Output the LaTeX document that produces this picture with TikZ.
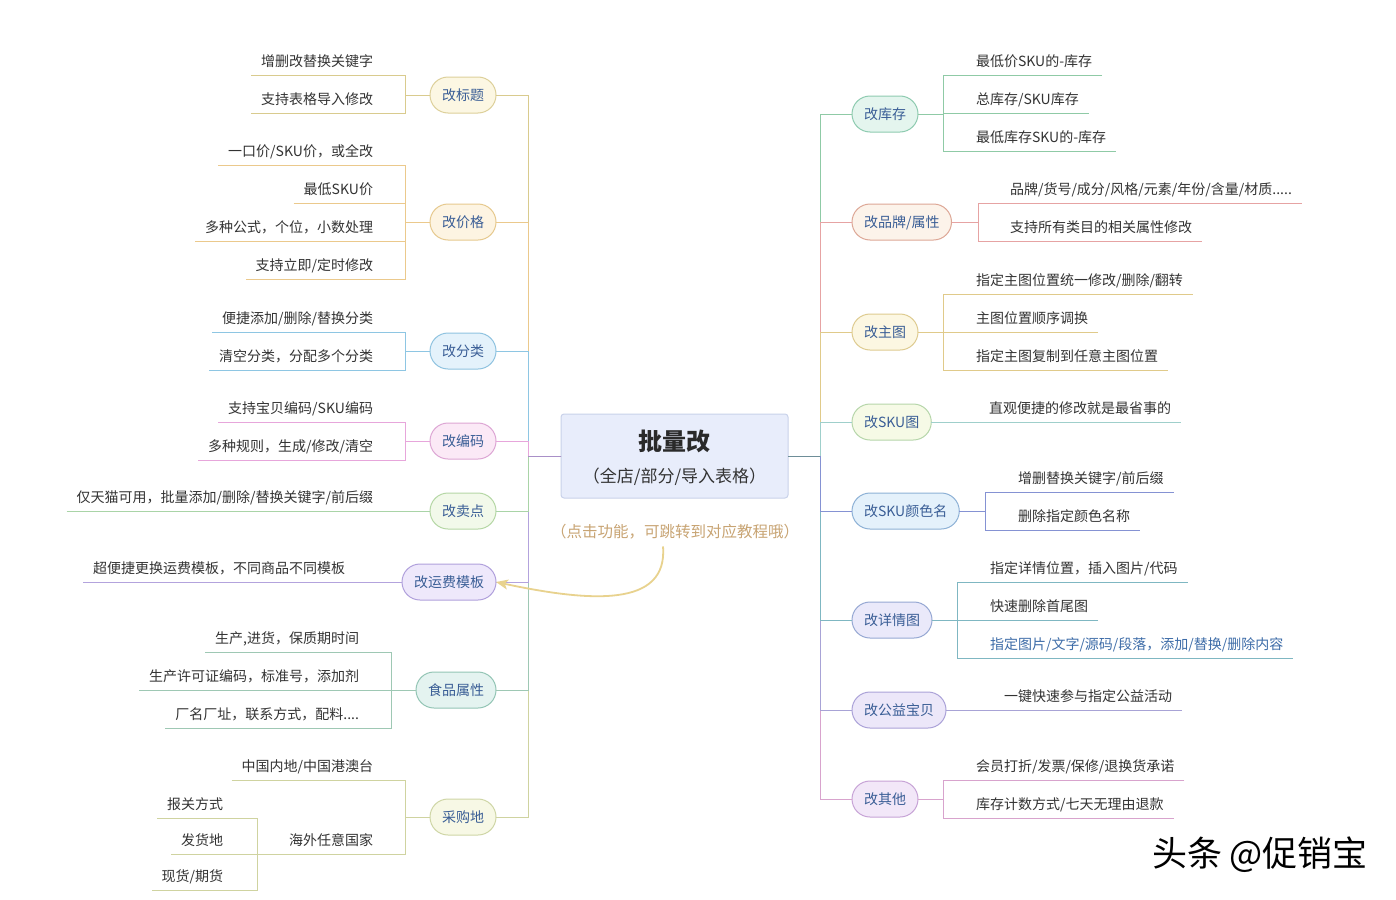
\documentclass[tikz,border=0pt]{standalone}
\usepackage{fontspec}
\setmainfont{Noto Sans CJK SC}
\usetikzlibrary{arrows.meta}
% colours
\definecolor{ctext}{HTML}{333333}
\definecolor{ptext}{HTML}{3A5E96}
\definecolor{linktext}{HTML}{3D6CA8}
\definecolor{cfill}{HTML}{E8EDFB}
\definecolor{cbord}{HTML}{C9D2EA}
\definecolor{ctitle}{HTML}{2A2A2A}
\definecolor{notec}{HTML}{C8A473}
\definecolor{arrc}{HTML}{E8D28E}
\definecolor{stubL}{HTML}{A990C8}
\definecolor{stubR}{HTML}{6E8E98}
% left branches: line, fill, border
\definecolor{La}{HTML}{D9CB8E}\definecolor{Fa}{HTML}{FCF7E3}\definecolor{Ba}{HTML}{DDD09A}
\definecolor{Lb}{HTML}{EBC98C}\definecolor{Fb}{HTML}{FDF4E2}\definecolor{Bb}{HTML}{E6C98E}
\definecolor{Lc}{HTML}{8EC6E3}\definecolor{Fc}{HTML}{E4F2FB}\definecolor{Bc}{HTML}{8FC3E0}
\definecolor{Ld}{HTML}{E7A6DB}\definecolor{Fd}{HTML}{FBE9F6}\definecolor{Bd}{HTML}{DDA6D4}
\definecolor{Le}{HTML}{A9D4A7}\definecolor{Fe}{HTML}{F2F9EA}\definecolor{Be}{HTML}{B5D7A5}
\definecolor{Lf}{HTML}{B3A3DD}\definecolor{Ff}{HTML}{EEE8FB}\definecolor{Bf}{HTML}{B0A0DC}
\definecolor{Lg}{HTML}{9EC8B4}\definecolor{Fg}{HTML}{E4F3F0}\definecolor{Bg}{HTML}{93C5B5}
\definecolor{Lh}{HTML}{CFD3A0}\definecolor{Fh}{HTML}{F7F8E5}\definecolor{Bh}{HTML}{CFD6A6}
% right branches
\definecolor{Ra}{HTML}{8FCAA6}\definecolor{Ga}{HTML}{E4F5EE}\definecolor{Ka}{HTML}{8ECBB0}
\definecolor{Rb}{HTML}{E6A3A3}\definecolor{Gb}{HTML}{FCF3EA}\definecolor{Kb}{HTML}{DDA796}
\definecolor{Rc}{HTML}{E0CA8A}\definecolor{Gc}{HTML}{FCF7E2}\definecolor{Kc}{HTML}{DECB90}
\definecolor{Rd}{HTML}{9FCFCB}\definecolor{Gd}{HTML}{F6FAE6}\definecolor{Kd}{HTML}{B6D6AA}
\definecolor{Re}{HTML}{8592D3}\definecolor{Ge}{HTML}{E4F1FB}\definecolor{Ke}{HTML}{8DB1D6}
\definecolor{Rf}{HTML}{7FB7C2}\definecolor{Gf}{HTML}{EAE9FA}\definecolor{Kf}{HTML}{96A8D3}
\definecolor{Rg}{HTML}{A8A3D6}\definecolor{Gg}{HTML}{ECE7F9}\definecolor{Kg}{HTML}{ABA2D8}
\definecolor{Rh}{HTML}{D8A3CD}\definecolor{Gh}{HTML}{F2E7F8}\definecolor{Kh}{HTML}{C7A3D6}
\begin{document}
\begin{tikzpicture}[x=1pt,y=-1pt,
  every node/.style={inner sep=0pt, outer sep=0pt},
  pill/.style={line width=1pt, rounded corners=18pt, minimum height=36pt,
    inner xsep=12pt, text=ptext, font=\fontsize{14}{16}\selectfont,
    text height=11.6pt, text depth=1pt},
  kidtext/.style={inner xsep=10pt, inner ysep=7.7pt, text=ctext,
    font=\fontsize{14}{16}\selectfont, text height=11.6pt, text depth=1pt},
  lt/.style={kidtext, anchor=east},
  rt/.style={kidtext, anchor=west},
  ln/.style={line width=1pt},
]
\fill[white] (0,0) rectangle (1396,899);
\useasboundingbox (0,0) rectangle (1396,899);

% ---------- centre ----------
\node[draw=cbord, fill=cfill, line width=1pt, rounded corners=3pt,
      minimum width=227pt, minimum height=84pt] (C) at (674.5,456) {};
\node[font=\fontsize{24}{28}\selectfont\bfseries, text=ctitle] (Ct) at (674.5,441) {批量改};
\node[font=\fontsize{17}{20}\selectfont, text=ctext] (Cs) at (674.5,477) {（全店/部分/导入表格）};
\node[font=\fontsize{15.5}{18}\selectfont, text=notec] (N) at (675,532) {（点击功能，可跳转到对应教程哦）};

\coordinate (JL) at (528,456);
\coordinate (JR) at (820,456);

% ---------- left branch nodes ----------
\node[pill, draw=Ba, fill=Fa, anchor=east] (p1) at (496,95) {改标题};
\node[pill, draw=Bb, fill=Fb, anchor=east] (p2) at (496,222) {改价格};
\node[pill, draw=Bc, fill=Fc, anchor=east] (p3) at (496,351) {改分类};
\node[pill, draw=Bd, fill=Fd, anchor=east] (p4) at (496,441) {改编码};
\node[pill, draw=Be, fill=Fe, anchor=east] (p5) at (496,511) {改卖点};
\node[pill, draw=Bf, fill=Ff, anchor=east] (p6) at (496,582) {改运费模板};
\node[pill, draw=Bg, fill=Fg, anchor=east] (p7) at (496,690) {食品属性};
\node[pill, draw=Bh, fill=Fh, anchor=east] (p8) at (496,817) {采购地};

% left elbows (outer first)
\draw[ln,La] (C.west) -- (C.west -| JL) |- (p1.east);
\draw[ln,Lh] (C.west) -- (C.west -| JL) |- (p8.east);
\draw[ln,Lb] (C.west) -- (C.west -| JL) |- (p2.east);
\draw[ln,Lg] (C.west) -- (C.west -| JL) |- (p7.east);
\draw[ln,Lc] (C.west) -- (C.west -| JL) |- (p3.east);
\draw[ln,Lf] (C.west) -- (C.west -| JL) |- (p6.east);
\draw[ln,Ld] (C.west) -- (C.west -| JL) |- (p4.east);
\draw[ln,Le] (C.west) -- (C.west -| JL) |- (p5.east);
\draw[ln,stubL] (C.west) -- (C.west -| JL);

% 改标题
\coordinate (v1) at (405,95);
\node[lt] (a11) at (383,61) {增删改替换关键字};
\node[lt] (a12) at (383,99) {支持表格导入修改};
\draw[ln,La] (a11.south west) -- (a11.south west -| v1) -- (a12.south west -| v1) -- (a12.south west);
\draw[ln,La] (p1.west) -- (p1.west -| v1);

% 改价格
\coordinate (v2) at (405,222);
\node[lt] (a21) at (383,151) {一口价/SKU价，或全改};
\node[lt] (a22) at (383,189) {最低SKU价};
\node[lt] (a23) at (383,227) {多种公式，个位，小数处理};
\node[lt] (a24) at (383,265) {支持立即/定时修改};
\draw[ln,Lb] (a21.south west) -- (a21.south west -| v2) -- (a24.south west -| v2) -- (a24.south west);
\draw[ln,Lb] (a22.south west) -- (a22.south west -| v2);
\draw[ln,Lb] (a23.south west) -- (a23.south west -| v2);
\draw[ln,Lb] (p2.west) -- (p2.west -| v2);

% 改分类
\coordinate (v3) at (405,351);
\node[lt] (a31) at (383,318) {便捷添加/删除/替换分类};
\node[lt] (a32) at (383,356) {清空分类，分配多个分类};
\draw[ln,Lc] (a31.south west) -- (a31.south west -| v3) -- (a32.south west -| v3) -- (a32.south west);
\draw[ln,Lc] (p3.west) -- (p3.west -| v3);

% 改编码
\coordinate (v4) at (405,441);
\node[lt] (a41) at (383,408) {支持宝贝编码/SKU编码};
\node[lt] (a42) at (383,446) {多种规则，生成/修改/清空};
\draw[ln,Ld] (a41.south west) -- (a41.south west -| v4) -- (a42.south west -| v4) -- (a42.south west);
\draw[ln,Ld] (p4.west) -- (p4.west -| v4);

% 改卖点
\node[lt] (a51) at (383,497) {仅天猫可用，批量添加/删除/替换关键字/前后缀};
\draw[ln,Le] (a51.south west) -- (a51.south west -| p5.west);

% 改运费模板
\node[lt] (a61) at (355,568) {超便捷更换运费模板，不同商品不同模板};
\draw[ln,Lf] (a61.south west) -- (a61.south west -| p6.west);

% 食品属性
\coordinate (v7) at (391,690);
\node[lt] (a71) at (369,638) {生产,进货，保质期时间};
\node[lt] (a72) at (369,676) {生产许可证编码，标准号，添加剂};
\node[lt] (a73) at (369,714) {厂名厂址，联系方式，配料....};
\draw[ln,Lg] (a71.south west) -- (a71.south west -| v7) -- (a73.south west -| v7) -- (a73.south west);
\draw[ln,Lg] (a72.south west) -- (a72.south west -| v7);
\draw[ln,Lg] (p7.west) -- (p7.west -| v7);

% 采购地
\coordinate (v8) at (405,817);
\coordinate (v8b) at (257,854);
\node[lt] (a81) at (383,766) {中国内地/中国港澳台};
\node[lt] (a82) at (383,840) {海外任意国家};
\draw[ln,Lh] (a81.south west) -- (a81.south west -| v8) -- (a82.south west -| v8) -- (a82.south west -| v8b);
\draw[ln,Lh] (p8.west) -- (p8.west -| v8);
\node[lt] (a83) at (233,804) {报关方式};
\node[lt] (a84) at (233,840) {发货地};
\node[lt] (a85) at (233,876) {现货/期货};
\draw[ln,Lh] (a83.south west) -- (a83.south west -| v8b) -- (a85.south west -| v8b) -- (a85.south west);
\draw[ln,Lh] (a84.south west) -- (a84.south west -| v8b);

% ---------- right branch nodes ----------
\node[pill, draw=Ka, fill=Ga, anchor=west] (q1) at (852,114) {改库存};
\node[pill, draw=Kb, fill=Gb, anchor=west] (q2) at (852,222) {改品牌/属性};
\node[pill, draw=Kc, fill=Gc, anchor=west] (q3) at (852,332) {改主图};
\node[pill, draw=Kd, fill=Gd, anchor=west] (q4) at (852,422) {改SKU图};
\node[pill, draw=Ke, fill=Ge, anchor=west] (q5) at (852,511) {改SKU颜色名};
\node[pill, draw=Kf, fill=Gf, anchor=west] (q6) at (852,620) {改详情图};
\node[pill, draw=Kg, fill=Gg, anchor=west] (q7) at (852,710) {改公益宝贝};
\node[pill, draw=Kh, fill=Gh, anchor=west] (q8) at (852,799) {改其他};

% right elbows (outer first)
\draw[ln,Ra] (C.east) -- (C.east -| JR) |- (q1.west);
\draw[ln,Rh] (C.east) -- (C.east -| JR) |- (q8.west);
\draw[ln,Rb] (C.east) -- (C.east -| JR) |- (q2.west);
\draw[ln,Rg] (C.east) -- (C.east -| JR) |- (q7.west);
\draw[ln,Rc] (C.east) -- (C.east -| JR) |- (q3.west);
\draw[ln,Rf] (C.east) -- (C.east -| JR) |- (q6.west);
\draw[ln,Rd] (C.east) -- (C.east -| JR) |- (q4.west);
\draw[ln,Re] (C.east) -- (C.east -| JR) |- (q5.west);
\draw[ln,stubR] (C.east) -- (C.east -| JR);

% 改库存
\coordinate (w1) at (943,114);
\node[rt] (b11) at (966,61) {最低价SKU的-库存};
\node[rt] (b12) at (966,99) {总库存/SKU库存};
\node[rt] (b13) at (966,137) {最低库存SKU的-库存};
\draw[ln,Ra] (b11.south east) -- (b11.south east -| w1) -- (b13.south east -| w1) -- (b13.south east);
\draw[ln,Ra] (b12.south east) -- (b12.south east -| w1);
\draw[ln,Ra] (q1.east) -- (q1.east -| w1);

% 改品牌/属性
\coordinate (w2) at (978,222);
\node[rt] (b21) at (1000,189) {品牌/货号/成分/风格/元素/年份/含量/材质.....};
\node[rt] (b22) at (1000,227) {支持所有类目的相关属性修改};
\draw[ln,Rb] (b21.south east) -- (b21.south east -| w2) -- (b22.south east -| w2) -- (b22.south east);
\draw[ln,Rb] (q2.east) -- (q2.east -| w2);

% 改主图
\coordinate (w3) at (943,332);
\node[rt] (b31) at (966,280) {指定主图位置统一修改/删除/翻转};
\node[rt] (b32) at (966,318) {主图位置顺序调换};
\node[rt] (b33) at (966,356) {指定主图复制到任意主图位置};
\draw[ln,Rc] (b31.south east) -- (b31.south east -| w3) -- (b33.south east -| w3) -- (b33.south east);
\draw[ln,Rc] (b32.south east) -- (b32.south east -| w3);
\draw[ln,Rc] (q3.east) -- (q3.east -| w3);

% 改SKU图
\node[rt] (b41) at (979,408) {直观便捷的修改就是最省事的};
\draw[ln,Rd] (q4.east) -- (q4.east -| b41.south east);

% 改SKU颜色名
\coordinate (w5) at (985,511);
\node[rt] (b51) at (1008,478) {增删替换关键字/前后缀};
\node[rt] (b52) at (1008,516) {删除指定颜色名称};
\draw[ln,Re] (b51.south east) -- (b51.south east -| w5) -- (b52.south east -| w5) -- (b52.south east);
\draw[ln,Re] (q5.east) -- (q5.east -| w5);

% 改详情图
\coordinate (w6) at (957,620);
\node[rt] (b61) at (980,568) {指定详情位置，插入图片/代码};
\node[rt] (b62) at (980,606) {快速删除首尾图};
\node[rt, text=linktext] (b63) at (980,644) {指定图片/文字/源码/段落，添加/替换/删除内容};
\draw[ln,Rf] (b61.south east) -- (b61.south east -| w6) -- (b63.south east -| w6) -- (b63.south east);
\draw[ln,Rf] (b62.south east) -- (b62.south east -| w6);
\draw[ln,Rf] (q6.east) -- (q6.east -| w6);

% 改公益宝贝
\node[rt] (b71) at (994,696) {一键快速参与指定公益活动};
\draw[ln,Rg] (q7.east) -- (q7.east -| b71.south east);

% 改其他
\coordinate (w8) at (943,799);
\node[rt] (b81) at (966,766) {会员打折/发票/保修/退换货承诺};
\node[rt] (b82) at (966,804) {库存计数方式/七天无理由退款};
\draw[ln,Rh] (b81.south east) -- (b81.south east -| w8) -- (b82.south east -| w8) -- (b82.south east);
\draw[ln,Rh] (q8.east) -- (q8.east -| w8);

% ---------- note arrow ----------
\draw[arrc, line width=1.8pt, -{Stealth[length=12pt,width=10pt,inset=3pt]}]
  ([xshift=-12pt,yshift=-7pt]N.south) .. controls (668,608) and (590,602) .. (p6.east);

% ---------- corner mark ----------
\node[font=\fontsize{35}{40}\selectfont, text=black] (W) at (1260,855) {头条 @促销宝};
\end{tikzpicture}
\end{document}
